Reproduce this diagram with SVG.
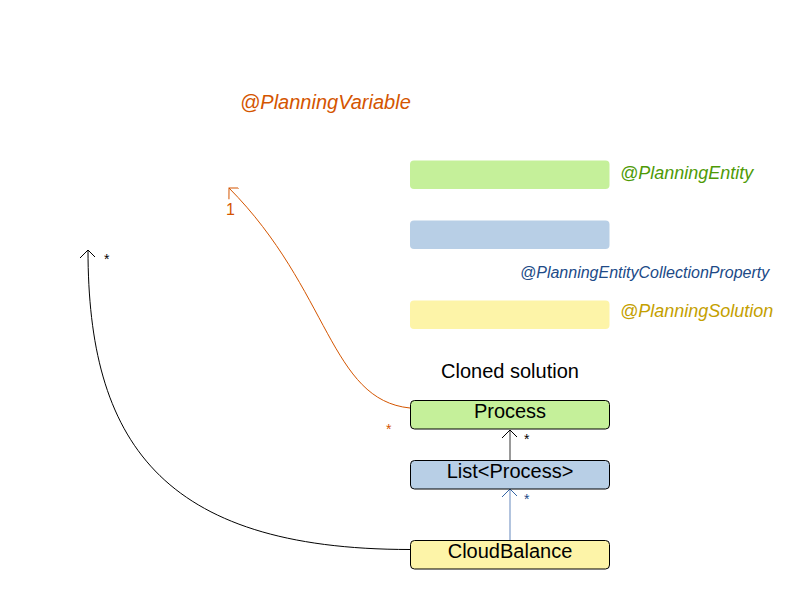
<svg xmlns="http://www.w3.org/2000/svg" width="800" height="600" viewBox="0 0 800 600">
<style>
text{font-family:"Liberation Sans",Arial,sans-serif}
.ann{font-style:italic}
.node{stroke:#000;stroke-width:1}
.leg{stroke:none}
.g{fill:#c5f09a}
.b{fill:#b8cfe6}
.y{fill:#fdf4a8}
.lbl{font-size:20px;text-anchor:middle;fill:#000}
.conn{fill:none}
.star{font-size:14px}
</style>
<defs>
<marker id="ab" markerWidth="16" markerHeight="16" refX="9" refY="9" orient="auto" markerUnits="userSpaceOnUse"><path d="M1,1 L9,9 L1,17" fill="none" stroke="#000" stroke-width="1"/></marker>
<marker id="ao" markerWidth="16" markerHeight="16" refX="9" refY="9" orient="auto" markerUnits="userSpaceOnUse"><path d="M1,1 L9,9 L1,17" fill="none" stroke="#d45500" stroke-width="1"/></marker>
<marker id="abl" markerWidth="16" markerHeight="16" refX="9" refY="9" orient="auto" markerUnits="userSpaceOnUse"><path d="M1,1 L9,9 L1,17" fill="none" stroke="#3465a4" stroke-width="1"/></marker>
</defs>
<g id="legend">
<rect class="leg g" x="410" y="160.5" width="199.5" height="28.5" rx="4"/>
<rect class="leg b" x="410" y="220.5" width="199.5" height="28.5" rx="4"/>
<rect class="leg y" x="410" y="300.5" width="199.5" height="28.5" rx="4"/>
<text class="ann" x="620" y="179" font-size="18" fill="#4e9a06">@PlanningEntity</text>
<text class="ann" x="520" y="278" font-size="16" fill="#204a87">@PlanningEntityCollectionProperty</text>
<text class="ann" x="620" y="317" font-size="18" fill="#c4a000">@PlanningSolution</text>
<text class="ann" x="240" y="109" font-size="20" fill="#d45500">@PlanningVariable</text>
</g>
<text x="510" y="378" class="lbl">Cloned solution</text>
<g id="connectors">
<path class="conn" d="M410,549.5 C160,549.5 88,440 88,250" stroke="#000" marker-end="url(#ab)"/>
<path class="conn" d="M410,408 C330,400 330,290 229,188" stroke="#d45500" marker-end="url(#ao)"/>
<path class="conn" d="M510,461 L510,430" stroke="#555" stroke-width="1.2" marker-end="url(#ab)"/>
<path class="conn" d="M510,541 L510,489" stroke="#7f9cc8" stroke-width="1.2" marker-end="url(#abl)"/>
<text class="star" x="104" y="264" fill="#000">*</text>
<text x="226" y="215" font-size="16" fill="#d45500">1</text>
<text class="star" x="386" y="434" fill="#d45500">*</text>
<text class="star" x="524" y="444" fill="#000">*</text>
<text class="star" x="524" y="504" fill="#204a87">*</text>
</g>
<g id="process">
<rect class="node g" x="410.5" y="400.5" width="199" height="28.5" rx="4"/>
<text class="lbl" x="510" y="418">Process</text>
</g>
<g id="list">
<rect class="node b" x="410.5" y="460.5" width="199" height="28.5" rx="4"/>
<text class="lbl" x="510" y="478">List&lt;Process&gt;</text>
</g>
<g id="cloudbalance">
<rect class="node y" x="410.5" y="540.5" width="199" height="28.5" rx="4"/>
<text class="lbl" x="510" y="558">CloudBalance</text>
</g>
</svg>
